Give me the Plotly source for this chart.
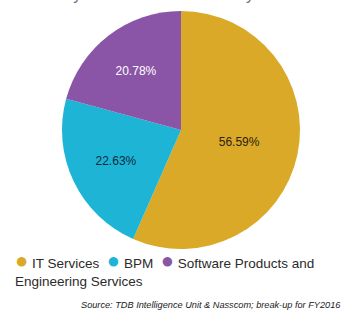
import plotly.graph_objects as go

labels = ["IT Services", "BPM", "Software Products and Engineering Services"]
values = [56.59, 22.63, 20.78]
colors = ["#DAA928", "#1DB4D6", "#8A55A7"]
text_colors = ["#2a2212", "#0f2a40", "#ffffff"]

W, H = 345, 311
cx, cy, r = 181, 130, 119

fig = go.Figure()
fig.add_trace(go.Pie(
    labels=labels,
    values=values,
    sort=False,
    direction="clockwise",
    rotation=0,
    marker=dict(colors=colors, line=dict(width=0)),
    texttemplate="%{value:.2f}%",
    textposition="inside",
    insidetextorientation="horizontal",
    textfont=dict(family="Liberation Sans, Arial, sans-serif", size=12, color=text_colors),
    hoverinfo="label+percent",
    showlegend=False,
    domain=dict(x=[(cx - r) / W, (cx + r) / W], y=[1 - (cy + r) / H, 1 - (cy - r) / H]),
))

# legend built as text from labels/colors
first_line_names = ["IT Services", "BPM", "Software Products and"]
parts = []
for name, c in zip(first_line_names, colors):
    parts.append(f"<span style='color:{c};font-size:22px'>●</span> {name}")
legend_text = " &nbsp;".join(parts) + "<br>Engineering Services"

fig.add_annotation(
    text=legend_text, xref="paper", yref="paper",
    x=13 / W, y=1 - 246 / H, xanchor="left", yanchor="top", align="left",
    showarrow=False,
    font=dict(family="Liberation Sans, Arial, sans-serif", size=13.5, color="#2b2b2b"),
)

fig.add_annotation(
    text="<i>Source: TDB Intelligence Unit & Nasscom; break-up for FY2016</i>",
    xref="paper", yref="paper", x=343 / W, y=1 - 305 / H,
    xanchor="right", yanchor="middle", showarrow=False,
    font=dict(family="Liberation Sans, Arial, sans-serif", size=9.2, color="#222222"),
)

fig.add_annotation(
    text="share by revenue for the industry",
    xref="paper", yref="paper", x=18 / W, y=1, xanchor="left", yanchor="bottom",
    yshift=-5, showarrow=False,
    font=dict(family="Liberation Sans, Arial, sans-serif", size=16, color="#6a7888"),
)

fig.update_layout(
    width=W, height=H,
    margin=dict(l=0, r=0, t=0, b=0),
    paper_bgcolor="white", plot_bgcolor="white",
)

fig.write_html("out.html", config={"displayModeBar": False},
               post_script="document.body.style.margin='0';")
